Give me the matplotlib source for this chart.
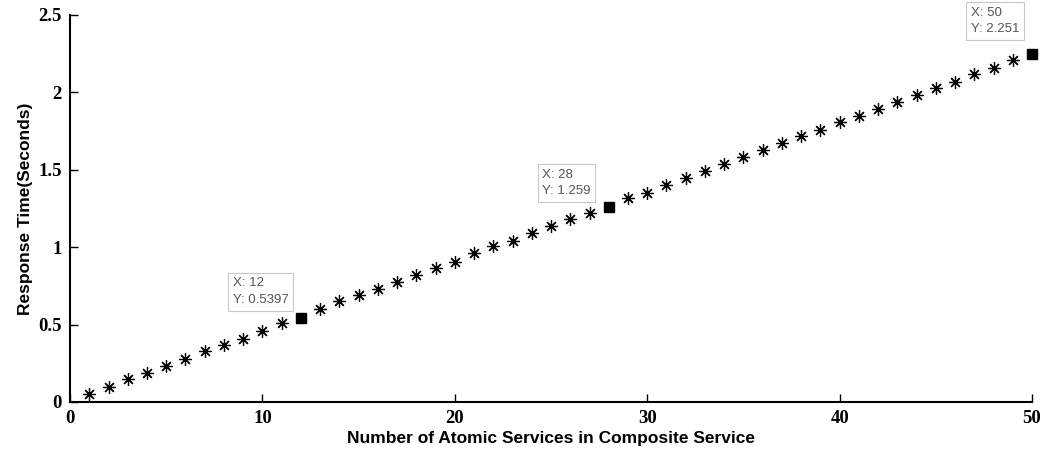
import matplotlib
matplotlib.use('Agg')
import matplotlib.pyplot as plt

# response time measured for 1..50 atomic services
services = list(range(1, 51))
response_time = [
    0.052, 0.10, 0.15, 0.19, 0.23, 0.28, 0.33, 0.37, 0.41, 0.46,
    0.51, 0.5397, 0.60, 0.65, 0.69, 0.73, 0.775, 0.82, 0.865, 0.905,
    0.96, 1.01, 1.04, 1.09, 1.14, 1.18, 1.22, 1.259, 1.32, 1.35,
    1.40, 1.45, 1.49, 1.54, 1.58, 1.63, 1.67, 1.72, 1.76, 1.81,
    1.85, 1.89, 1.94, 1.98, 2.03, 2.07, 2.12, 2.16, 2.21, 2.251,
]

# highlighted data tips
tip_x = [12, 28, 50]
tip_offsets = [(-9, 9), (-13, 7), (-9, 13)]

fig = plt.figure(figsize=(10.47, 4.5), dpi=100)
ax = fig.add_axes([0.0669, 0.1067, 0.9188, 0.86])

plain_x = [x for x in services if x not in tip_x]
plain_y = [response_time[services.index(x)] for x in plain_x]
ax.plot(plain_x, plain_y, linestyle='none', marker=(8, 2, 0),
        markersize=9, markeredgewidth=0.9, color='black')

for x, off in zip(tip_x, tip_offsets):
    y = response_time[services.index(x)]
    ax.plot([x], [y], marker='s', markersize=7, color='black', linestyle='none',
            zorder=4, clip_on=False)
    ax.annotate('X: %g\nY: %g' % (x, y), xy=(x, y), xytext=off,
                textcoords='offset points', ha='right', va='bottom',
                multialignment='left',
                fontsize=9.5, color='#555555', family='Liberation Sans',
                linespacing=1.5,
                bbox=dict(boxstyle='square,pad=0.35', fc='white', ec='#c8c8c8', lw=0.8))

ax.set_xlim(0, 50)
ax.set_ylim(0, 2.5)
ax.set_xticks([0, 10, 20, 30, 40, 50])
ax.set_yticks([0, 0.5, 1, 1.5, 2, 2.5])
ax.set_yticklabels(['0', '0.5', '1', '1.5', '2', '2.5'])

for s in ['top', 'right']:
    ax.spines[s].set_visible(False)
for s in ['left', 'bottom']:
    ax.spines[s].set_linewidth(1.5)

ax.tick_params(direction='in', length=6, width=1, pad=6)
for lab in ax.get_xticklabels() + ax.get_yticklabels():
    lab.set_family('Liberation Serif')
    lab.set_fontweight('bold')
    lab.set_fontsize(13.5)

ax.set_xlabel('Number of Atomic Services in Composite Service',
              family='Liberation Sans', fontweight='bold', fontsize=12.5, labelpad=3)
ax.set_ylabel('Response Time(Seconds)',
              family='Liberation Sans', fontweight='bold', fontsize=12.5, labelpad=4)

fig.savefig('out.png', dpi=100)
